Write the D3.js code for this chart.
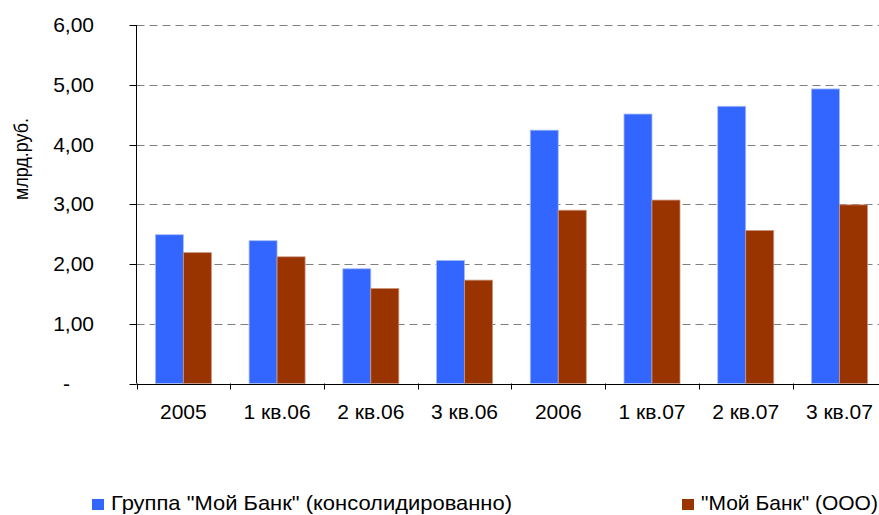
<!DOCTYPE html>
<html>
<head>
<meta charset="utf-8">
<script src="https://cdn.jsdelivr.net/npm/d3@7"></script>
<style>
html,body{margin:0;padding:0;background:#fff;overflow:hidden;}
svg{display:block;font-family:"Liberation Sans",Arial,sans-serif;}
</style>
</head>
<body>
<svg id="chart" width="879" height="515"></svg>
<script>
const categories = ["2005", "1 кв.06", "2 кв.06", "3 кв.06", "2006", "1 кв.07", "2 кв.07", "3 кв.07"];
const seriesNames = ["Группа \"Мой Банк\" (консолидированно)", "\"Мой Банк\" (ООО)"];
const groupValues = [2.49, 2.39, 1.92, 2.06, 4.24, 4.51, 4.64, 4.93];
const bankValues  = [2.19, 2.12, 1.59, 1.73, 2.90, 3.07, 2.56, 2.99];
const yTicks = [0, 1, 2, 3, 4, 5, 6];
const yTickLabels = ["-", "1,00", "2,00", "3,00", "4,00", "5,00", "6,00"];
const yTitle = "млрд.руб.";
const colors = ["#3366FF", "#993300"];

(function () {
const svg = d3.select("#chart");
const pLeft = 136.5, pRight = 886.3, pTop = 25, pBottom = 383.5;

const y = d3.scaleLinear().domain([0, 6]).range([pBottom, pTop]);
const pad = 1 - 56 / ((pRight - pLeft) / categories.length);
const x = d3.scaleBand().domain(categories).range([pLeft, pRight]).paddingInner(pad).paddingOuter(pad / 2);
const xs = d3.scaleBand().domain([0, 1]).range([0, x.bandwidth()]);

// gridlines
svg.append("g").selectAll("line").data(yTicks.filter(t => t > 0)).join("line")
  .attr("x1", pLeft).attr("x2", 879)
  .attr("y1", d => Math.round(y(d)) + 0.5).attr("y2", d => Math.round(y(d)) + 0.5)
  .attr("stroke", "#808080").attr("stroke-width", 1).attr("stroke-dasharray", "8,5");

// bars
const data = categories.map((c, i) => ({c, v: [groupValues[i], bankValues[i]]}));
const g = svg.append("g").selectAll("g").data(data).join("g")
  .attr("transform", d => `translate(${x(d.c)},0)`);
g.selectAll("rect").data(d => d.v.map((v, k) => ({v, k}))).join("rect")
  .attr("x", d => xs(d.k)).attr("width", xs.bandwidth())
  .attr("y", d => y(d.v)).attr("height", d => y(0) - y(d.v))
  .attr("fill", d => colors[d.k])
  .attr("stroke", d => d.k === 0 ? "#a9bdf5" : "#c9937a").attr("stroke-width", 0.8);

// y axis
const ya = svg.append("g");
ya.append("line").attr("x1", pLeft).attr("x2", pLeft).attr("y1", pTop).attr("y2", pBottom)
  .attr("stroke", "#000").attr("stroke-width", 1);
ya.selectAll("line.t").data(yTicks).join("line").attr("class", "t")
  .attr("x1", pLeft - 7).attr("x2", pLeft)
  .attr("y1", d => Math.round(y(d)) + 0.5).attr("y2", d => Math.round(y(d)) + 0.5)
  .attr("stroke", "#000");
ya.selectAll("text").data(yTicks).join("text")
  .attr("x", d => d === 0 ? 70 : 94)
  .attr("y", d => y(d) + 7)
  .attr("text-anchor", "end")
  .attr("font-size", 21).attr("fill", "#000")
  .text((d, i) => yTickLabels[i]);

// x axis
const xa = svg.append("g");
xa.append("line").attr("x1", pLeft).attr("x2", 879).attr("y1", Math.round(pBottom) + 0.5).attr("y2", Math.round(pBottom) + 0.5)
  .attr("stroke", "#000");
const bounds = categories.map(c => x(c) - x.step() * pad / 2);
xa.selectAll("line.t").data(bounds).join("line").attr("class", "t")
  .attr("x1", d => Math.round(d) + 0.5).attr("x2", d => Math.round(d) + 0.5)
  .attr("y1", pBottom).attr("y2", pBottom + 6).attr("stroke", "#000");
xa.selectAll("text").data(categories).join("text")
  .attr("x", d => x(d) + x.bandwidth() / 2).attr("y", 419)
  .attr("text-anchor", "middle").attr("font-size", 21).attr("fill", "#000")
  .text(d => d);

// y title
svg.append("text").attr("transform", "translate(28,159) rotate(-90)")
  .attr("text-anchor", "middle").attr("font-size", 20).attr("fill", "#000")
  .attr("textLength", 82).attr("lengthAdjust", "spacingAndGlyphs").text(yTitle);

// legend
const legX = [92, 682];
const lg = svg.append("g").selectAll("g").data(seriesNames).join("g")
  .attr("transform", (d, i) => `translate(${legX[i]},0)`);
lg.append("rect").attr("x", 0).attr("y", 499).attr("width", 12).attr("height", 11)
  .attr("fill", (d, i) => colors[i]);
lg.append("text").attr("x", 19).attr("y", 510).attr("font-size", 21).attr("fill", "#000")
  .attr("textLength", (d, i) => i === 0 ? 401 : null)
  .attr("lengthAdjust", "spacingAndGlyphs")
  .text(d => d);
})();
</script>
</body>
</html>
